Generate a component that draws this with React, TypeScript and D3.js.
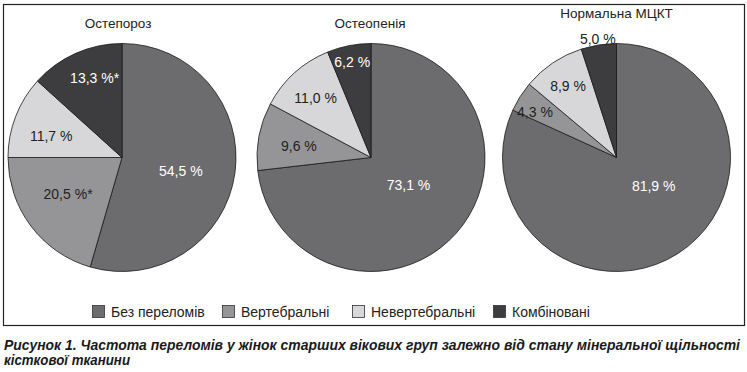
import React from "react";
import * as d3 from "d3";

const groups = ["Остепороз", "Остеопенія", "Нормальна МЦКТ"];
const categories = ["Без переломів", "Вертебральні", "Невертебральні", "Комбіновані"];

const osteoporosis = [54.5, 20.5, 11.7, 13.3];
const osteopenia = [73.1, 9.6, 11.0, 6.2];
const normalBmd = [81.9, 4.3, 8.9, 5.0];
const seriesValues = [osteoporosis, osteopenia, normalBmd];

// asterisk marks from the original figure
const osteoporosisNotes = ["", "*", "", "*"];
const osteopeniaNotes = ["", "", "", ""];
const normalNotes = ["", "", "", ""];
const seriesNotes = [osteoporosisNotes, osteopeniaNotes, normalNotes];

const captionLines = [
  "Рисунок 1. Частота переломів у жінок старших вікових груп залежно від стану мінеральної щільності",
  "кісткової тканини",
];

// layout
const W = 747;
const H = 372;
const R = 114;
const centersX = [122, 371, 616.5];
const centerY = 157.5;
const titleX = [-4, -1, 0];
const titleY = [27.5, 27.5, 18];
const labelRadius = [
  [0.53, 0.57, 0.65, 0.74],
  [0.41, 0.64, 0.71, 0.85],
  [0.41, 0.82, 0.76, 1.05],
];
const labelTurn = [
  [5, 3, -4, 5],
  [-5, -2, -1, 0],
  [-20, -3, 0, 0],
];
const fills = ["#6c6c6f", "#959598", "#d7d7d9", "#3d3d40"];
const labelColors = ["#ffffff", "#222222", "#222222", "#ffffff"];
const legendX = [92, 222, 352, 493];
const font = "'Liberation Sans', Arial, Helvetica, sans-serif";

const fmt = (v: number) => d3.format(".1f")(v).replace(".", ",") + " %";

const Pie = ({ values, notes, cx, title, gi }: any) => {
  const pie = d3
    .pie<number>()
    .value((d) => d)
    .sort(null);
  const arc = d3.arc<any>().innerRadius(0).outerRadius(R);
  const arcs = pie(values);

  return (
    <g transform={`translate(${cx},${centerY})`}>
      <text
        x={titleX[gi]}
        y={titleY[gi] - centerY}
        textAnchor="middle"
        fontSize={13.5}
        fill="#222"
      >
        {title}
      </text>
      {arcs.map((d, i) => (
        <path
          key={i}
          d={arc(d) as string}
          fill={fills[i]}
          stroke="#1a1a1a"
          strokeWidth={0.8}
        />
      ))}
      {arcs.map((d, i) => {
        const lr = labelRadius[gi][i] * R;
        const shift = (labelTurn[gi][i] * Math.PI) / 180;
        const label = d3
          .arc<any>()
          .innerRadius(lr)
          .outerRadius(lr);
        const [x, y] = label.centroid({
          startAngle: d.startAngle + shift,
          endAngle: d.endAngle + shift,
        });
        const outside = labelRadius[gi][i] > 1;
        return (
          <text
            key={i}
            x={x}
            y={y}
            dy="0.35em"
            textAnchor="middle"
            fontSize={14}
            fill={outside ? "#222222" : labelColors[i]}
          >
            {fmt(values[i]) + notes[i]}
          </text>
        );
      })}
    </g>
  );
};

const App = () => {
  return (
    <svg
      width={W}
      height={H}
      style={{ position: "absolute", left: 0, top: 0, background: "#fff" }}
      fontFamily={font}
    >
      <rect x={0} y={0} width={W} height={H} fill="#fff" />
      <rect
        x={3.5}
        y={4.5}
        width={741}
        height={321}
        fill="none"
        stroke="#222"
        strokeWidth={1.2}
      />
      {groups.map((g, gi) => (
        <Pie
          key={g}
          values={seriesValues[gi]}
          notes={seriesNotes[gi]}
          cx={centersX[gi]}
          title={g}
          gi={gi}
        />
      ))}
      {categories.map((c, i) => (
        <g key={c} transform={`translate(${legendX[i]},305)`}>
          <rect
            x={0.5}
            y={0.5}
            width={12}
            height={12}
            fill={fills[i]}
            stroke="#333"
            strokeWidth={0.8}
          />
          <text x={19} y={11.5} fontSize={14} fill="#222">
            {c}
          </text>
        </g>
      ))}
      {captionLines.map((line, i) => (
        <text
          key={i}
          x={4}
          y={350 + i * 14.5}
          fontSize={14}
          fontWeight="bold"
          fontStyle="italic"
          fill="#1a1a1a"
          textLength={i === 0 ? 736 : 126}
          lengthAdjust="spacingAndGlyphs"
        >
          {line}
        </text>
      ))}
    </svg>
  );
};

export default App;
